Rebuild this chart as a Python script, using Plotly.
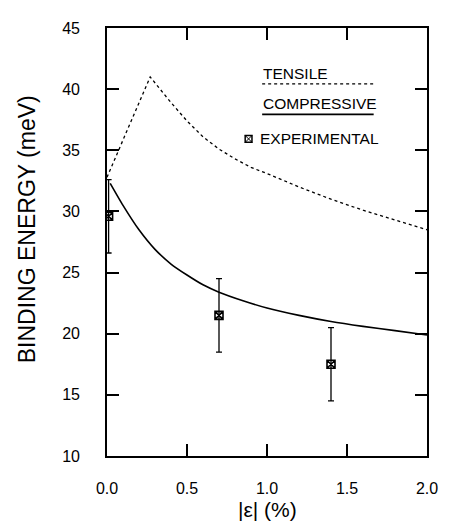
import plotly.graph_objects as go

# Tensile strain (dashed) curve
tensile_x = [0.0, 0.27, 0.40, 0.50, 0.60, 0.70, 0.80, 0.90, 1.00, 1.20, 1.40, 1.60, 1.80, 2.0]
tensile_y = [32.8, 41.0, 38.9, 37.4, 36.1, 35.1, 34.3, 33.6, 33.1, 32.0, 31.0, 30.1, 29.3, 28.5]

# Compressive strain (solid) curve
comp_x = [0.02, 0.10, 0.20, 0.30, 0.40, 0.50, 0.60, 0.70, 0.85, 1.00, 1.20, 1.40, 1.60, 1.80, 2.0]
comp_y = [32.3, 30.5, 28.5, 26.9, 25.7, 24.8, 24.0, 23.4, 22.7, 22.1, 21.5, 21.0, 20.6, 20.25, 19.9]

# Experimental points
exp_x = [0.01, 0.70, 1.40]
exp_y = [29.6, 21.5, 17.5]
exp_err = [3.0, 3.0, 3.0]

x_ticks = [0.0, 0.5, 1.0, 1.5, 2.0]
x_ticklabels = ["0.0", "0.5", "1.0", "1.5", "2.0"]
y_ticks = [10, 15, 20, 25, 30, 35, 40, 45]

font_main = "Liberation Sans, Arial, sans-serif"

fig = go.Figure()
fig.add_trace(go.Scatter(x=tensile_x, y=tensile_y, mode="lines",
                         line=dict(color="black", width=1.3, dash="3px,3px"),
                         showlegend=False))
fig.add_trace(go.Scatter(x=comp_x, y=comp_y, mode="lines",
                         line=dict(color="black", width=1.6, shape="spline", smoothing=0.6),
                         showlegend=False))
fig.add_trace(go.Scatter(x=exp_x, y=exp_y, mode="markers",
                         marker=dict(symbol="square-x-open", size=8, color="black",
                                     line=dict(width=1.6, color="black")),
                         error_y=dict(type="data", array=exp_err, visible=True,
                                      color="black", thickness=1.3, width=3),
                         showlegend=False))

# Helpers: reference-screen pixel -> paper coords (plot area 330x436 at screen 107,20)
def px2x(px):
    return (px - 107) / 330.0

def px2y(py):
    return (456 - py) / 436.0

legend_font = dict(family=font_main, size=15.5, color="black")
annotations = [
    dict(text="TENSILE", x=px2x(266), y=px2y(66), xanchor="left", yanchor="middle", font=legend_font),
    dict(text="COMPRESSIVE", x=px2x(266), y=px2y(97), xanchor="left", yanchor="middle", font=legend_font),
    dict(text="EXPERIMENTAL", x=px2x(263), y=px2y(133), xanchor="left", yanchor="middle", font=legend_font),
    dict(text="BINDING ENERGY (meV)", x=0, y=px2y(225), xshift=-80, textangle=-90,
         xanchor="center", yanchor="middle",
         font=dict(family=font_main, size=23, color="black")),
    dict(text="|\u03b5| (%)", x=px2x(272), y=0, yshift=-53, xanchor="center", yanchor="middle",
         font=dict(family=font_main, size=21, color="black")),
]
for a in annotations:
    a.update(xref="paper", yref="paper", showarrow=False)

shapes = [
    dict(type="line", xref="paper", yref="paper", x0=px2x(267), x1=px2x(382),
         y0=px2y(77), y1=px2y(77), line=dict(color="black", width=1.3, dash="3px,3px")),
    dict(type="line", xref="paper", yref="paper", x0=px2x(267), x1=px2x(382),
         y0=px2y(108), y1=px2y(108), line=dict(color="black", width=1.6)),
]
# experimental legend symbol: small square with a cross
mx, my = px2x(253), px2y(133)
dx, dy = 3.5 / 330.0, 3.5 / 436.0
shapes += [
    dict(type="rect", xref="paper", yref="paper", x0=mx - dx, x1=mx + dx,
         y0=my - dy, y1=my + dy, line=dict(color="black", width=1.5)),
    dict(type="line", xref="paper", yref="paper", x0=mx - dx, x1=mx + dx,
         y0=my - dy, y1=my + dy, line=dict(color="black", width=1)),
    dict(type="line", xref="paper", yref="paper", x0=mx - dx, x1=mx + dx,
         y0=my + dy, y1=my - dy, line=dict(color="black", width=1)),
]

# page body has an 8px margin, so the figure is 8px smaller than the window
fig.update_layout(
    width=442, height=518,
    margin=dict(l=99, r=13, t=12, b=70),
    paper_bgcolor="white", plot_bgcolor="white",
    annotations=annotations, shapes=shapes,
    showlegend=False,
)

fig.update_xaxes(range=[0, 2.0], tickvals=x_ticks, ticktext=x_ticklabels,
                 ticks="inside", ticklen=12, tickwidth=1.5, tickcolor="black",
                 showline=True, linecolor="black", linewidth=1.6, mirror="ticks",
                 showgrid=False, zeroline=False, ticklabelstandoff=17,
                 tickfont=dict(family=font_main, size=16, color="black"))
fig.update_yaxes(range=[10, 45], tickvals=y_ticks,
                 ticks="inside", ticklen=12, tickwidth=1.5, tickcolor="black",
                 showline=True, linecolor="black", linewidth=1.6, mirror="ticks",
                 showgrid=False, zeroline=False, ticklabelstandoff=22,
                 tickfont=dict(family=font_main, size=16, color="black"))

fig.write_html("out.html")
